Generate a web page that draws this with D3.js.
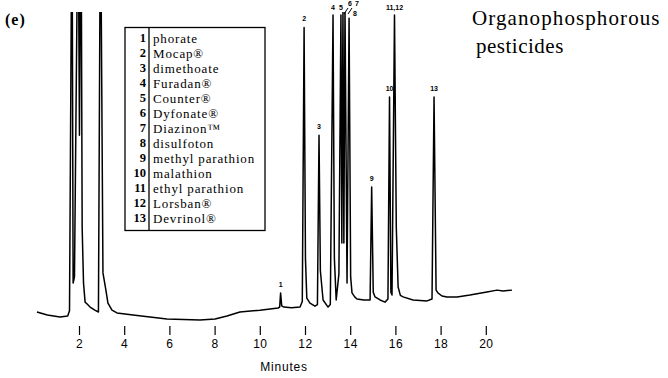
<!DOCTYPE html>
<html>
<head>
<meta charset="utf-8">
<script src="https://cdn.jsdelivr.net/npm/d3@7"></script>
<style>
    body { margin: 0; background: #fff; }
    svg { display: block; }
</style>
</head>
<body>
<svg id="chart" width="668" height="378"></svg>
<script>
// retention time (minutes) and detector response
var minutes = [0.14, 0.60, 1.16, 1.50, 1.58, 1.69, 1.74, 1.80, 1.96, 2.02, 2.09, 2.14, 2.20, 2.27, 2.36, 2.49,
    2.70, 2.86, 2.95, 3.06, 3.19, 3.28, 3.46, 3.68, 4.39, 5.89, 7.35, 8.02, 8.55, 9.12, 10.01, 10.81,
    10.88, 10.92, 10.97, 11.07, 11.40, 11.78, 11.88, 11.96, 12.02, 12.08, 12.22, 12.44, 12.55, 12.62,
    12.68, 12.80, 13.02, 13.12, 13.24, 13.30, 13.38, 13.50, 13.59, 13.63, 13.68, 13.72, 13.77, 13.86,
    13.95, 14.02, 14.08, 14.20, 14.30, 14.60, 14.88, 14.95, 15.02, 15.10, 15.32, 15.54, 15.67, 15.74,
    15.80, 15.85, 15.96, 16.04, 16.12, 16.22, 16.34, 16.78, 17.40, 17.62, 17.71, 17.80, 17.88, 18.06,
    18.28, 18.73, 19.30, 20.05, 20.50, 20.76, 21.16];
var signal = [2.6, 1.6, 1.0, 1.3, 3.0, 140, 12, 14, 140, 60, 140, 30, 12, 5.8, 5.2, 4.2,
    3.2, 2.6, 140, 15.3, 9.7, 5.5, 3.2, 2.3, 1.6, 0.3, 0, 0.3, 1.3, 2.6, 3.2, 3.9,
    4.2, 8.8, 4.6, 4.2, 4.0, 4.2, 6.0, 95, 20, 7.1, 5.5, 4.5, 5.0, 60,
    16, 6.5, 4.2, 5.0, 99, 20, 6.5, 15, 99, 25, 101, 25, 101, 12,
    98, 14, 8.8, 7.5, 6.8, 6.5, 6.5, 43.2, 9, 7.5, 6.5, 5.8, 6.8, 72.4,
    9, 8.1, 99, 30, 10.7, 8.0, 7.5, 6.5, 6.2, 6.8, 72.4, 9.7, 8.8, 7.8,
    7.5, 7.5, 8.1, 9.1, 9.7, 9.4, 9.7];

var peakLabels = ["1", "2", "3", "4", "5", "6", "7", "8", "9", "10", "11,12", "13"];
var peakMinutes = [10.92, 11.96, 12.62, 13.24, 13.59, 13.68, 13.77, 13.95, 14.95, 15.74, 15.96, 17.71];
var peakHeights = [8.8, 95, 60, 99, 99, 101, 101, 98, 43.2, 72.4, 99, 72.4];

var compoundIds = ["1", "2", "3", "4", "5", "6", "7", "8", "9", "10", "11", "12", "13"];
var compoundNames = ["phorate", "Mocap®", "dimethoate", "Furadan®", "Counter®", "Dyfonate®", "Diazinon™",
    "disulfoton", "methyl parathion", "malathion", "ethyl parathion", "Lorsban®", "Devrinol®"];

var xTicks = [2, 4, 6, 8, 10, 12, 14, 16, 18, 20];

var svg = d3.select("#chart");

var x = d3.scaleLinear().domain([2, 20]).range([79, 485.8]);
var y = d3.scaleLinear().domain([0, 100]).range([320, 12]);

svg.append("clipPath")
    .attr("id", "plotClip")
    .append("rect")
    .attr("x", 0)
    .attr("y", 12)
    .attr("width", 668)
    .attr("height", 330);

var line = d3.line()
    .x(function(d, i) { return x(minutes[i]); })
    .y(function(d) { return y(d); });

svg.append("path")
    .datum(signal)
    .attr("clip-path", "url(#plotClip)")
    .attr("d", line)
    .attr("fill", "none")
    .attr("stroke", "#000")
    .attr("stroke-width", 1.5)
    .attr("stroke-linejoin", "round");

// axis: ticks only, no domain line
var axis = svg.append("g")
    .attr("transform", "translate(0,326)")
    .call(d3.axisBottom(x).tickValues(xTicks).tickSize(9).tickPadding(4).tickFormat(d3.format("d")));
axis.select(".domain").remove();
axis.selectAll("line").attr("stroke", "#000").attr("stroke-width", 1.2);
axis.selectAll("text")
    .attr("fill", "#000")
    .style("font-family", "'Liberation Sans', Arial, sans-serif")
    .style("font-size", "12px")
    .style("letter-spacing", "0.5px");

svg.append("text")
    .attr("x", 284)
    .attr("y", 371)
    .attr("text-anchor", "middle")
    .style("font-family", "'Liberation Sans', Arial, sans-serif")
    .style("font-size", "12px")
    .style("letter-spacing", "0.8px")
    .text("Minutes");

// peak numbers above the peaks; 6-8 are nudged aside as in the original
var labelShift = { "6": [7, 6], "7": [12, 6], "8": [6, 16] };
svg.append("g").selectAll("text")
    .data(peakLabels)
    .enter().append("text")
    .attr("x", function(d, i) { return labelShift[d] ? x(peakMinutes[i]) + labelShift[d][0] : x(peakMinutes[i]); })
    .attr("y", function(d, i) {
        if(labelShift[d]) {
            return labelShift[d][1];
        }
        return Math.max(y(peakHeights[i]), 16) - 6;
    })
    .attr("text-anchor", "middle")
    .style("font-family", "'Liberation Sans', Arial, sans-serif")
    .style("font-weight", "bold")
    .style("font-size", "7px")
    .text(function(d) { return d; });

// leader strokes for 6 and 7
svg.append("path")
    .attr("d", "M344,14L348,8M348,14L352,8")
    .attr("stroke", "#000")
    .attr("stroke-width", 1);

// legend table
var legend = svg.append("g").attr("transform", "translate(125,27.5)");
legend.append("rect")
    .attr("width", 140)
    .attr("height", 203)
    .attr("fill", "#fff")
    .attr("stroke", "#000")
    .attr("stroke-width", 1.3);
legend.append("line")
    .attr("x1", 24).attr("x2", 24)
    .attr("y1", 0).attr("y2", 203)
    .attr("stroke", "#000")
    .attr("stroke-width", 1.3);

var rows = legend.selectAll("g.row")
    .data(compoundIds)
    .enter().append("g")
    .attr("class", "row")
    .attr("transform", function(d, i) { return "translate(0," + (10.5 + i * 15) + ")"; });
rows.append("text")
    .attr("x", 21)
    .attr("dy", "0.35em")
    .attr("text-anchor", "end")
    .style("font-family", "'Liberation Serif', 'Times New Roman', serif")
    .style("font-weight", "bold")
    .style("font-size", "12.5px")
    .text(function(d) { return d; });
rows.append("text")
    .attr("x", 28)
    .attr("dy", "0.35em")
    .style("font-family", "'Liberation Serif', 'Times New Roman', serif")
    .style("font-size", "13px")
    .style("letter-spacing", "0.85px")
    .text(function(d, i) { return compoundNames[i]; });

svg.append("text")
    .attr("x", 5)
    .attr("y", 25)
    .style("font-family", "'Liberation Serif', 'Times New Roman', serif")
    .style("font-weight", "bold")
    .style("font-size", "16px")
    .style("letter-spacing", "1px")
    .text("(e)");

svg.append("text")
    .attr("x", 472)
    .attr("y", 25)
    .style("font-family", "'Liberation Serif', 'Times New Roman', serif")
    .style("font-size", "21px")
    .style("letter-spacing", "1.1px")
    .text("Organophosphorous");
svg.append("text")
    .attr("x", 476)
    .attr("y", 53)
    .style("font-family", "'Liberation Serif', 'Times New Roman', serif")
    .style("font-size", "21px")
    .style("letter-spacing", "0.5px")
    .text("pesticides");
</script>
</body>
</html>
